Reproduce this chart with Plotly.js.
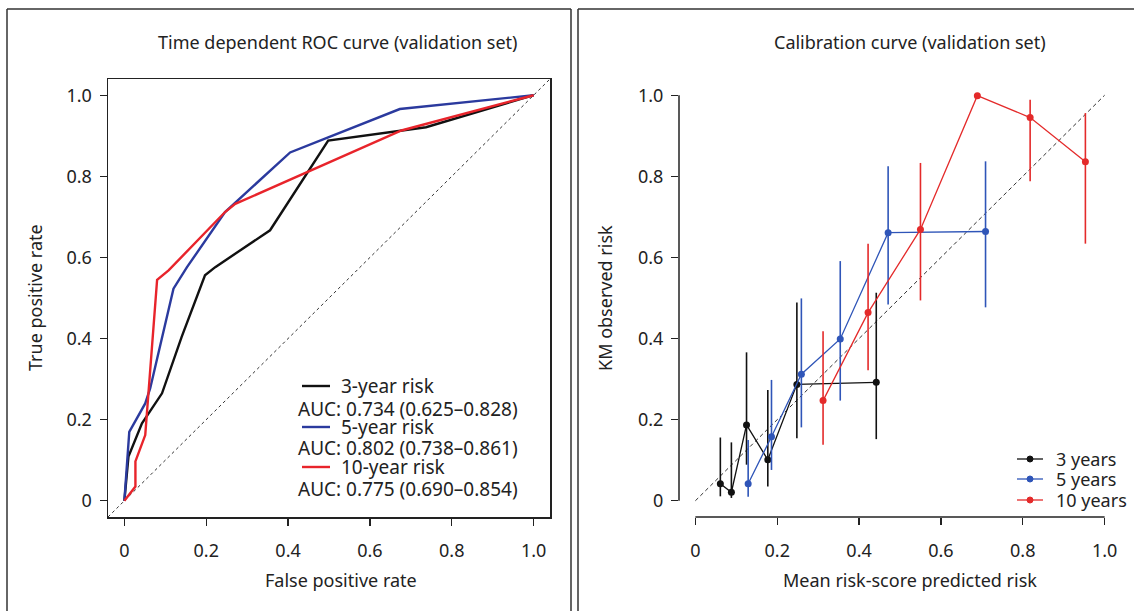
<!DOCTYPE html>
<html>
<head>
<meta charset="utf-8">
<script src="https://cdn.plot.ly/plotly-3.0.1.min.js"></script>
<style>
html,body{margin:0;padding:0;background:#fff;}
#chart{width:1134px;height:611px;}
</style>
</head>
<body>
<div id="chart"></div>
<script>
// ---------- ROC data (validation set) ----------
const roc3_fpr = [0, 0.010, 0.043, 0.092, 0.140, 0.197, 0.222, 0.356, 0.498, 0.677, 0.737, 1.0];
const roc3_tpr = [0, 0.109, 0.191, 0.265, 0.404, 0.556, 0.576, 0.667, 0.888, 0.913, 0.921, 1.0];
const roc5_fpr = [0, 0.012, 0.051, 0.063, 0.120, 0.153, 0.246, 0.405, 0.498, 0.673, 1.0];
const roc5_tpr = [0, 0.170, 0.240, 0.277, 0.523, 0.576, 0.712, 0.859, 0.896, 0.966, 1.0];
const roc10_fpr = [0, 0.027, 0.027, 0.051, 0.080, 0.108, 0.246, 0.271, 0.677, 1.0];
const roc10_tpr = [0, 0.035, 0.097, 0.162, 0.545, 0.568, 0.712, 0.732, 0.913, 1.0];
const rocDiag = [-0.04, 1.04];

// ---------- Calibration data ----------
const cal3_pred = [0.061, 0.088, 0.125, 0.177, 0.248, 0.442];
const cal3_obs  = [0.042, 0.021, 0.187, 0.101, 0.287, 0.292];
const cal3_up   = [0.156, 0.144, 0.366, 0.273, 0.489, 0.513];
const cal3_lo   = [0.011, 0.007, 0.089, 0.035, 0.154, 0.152];

const cal5_pred = [0.129, 0.186, 0.259, 0.354, 0.471, 0.709];
const cal5_obs  = [0.042, 0.158, 0.312, 0.399, 0.661, 0.664];
const cal5_up   = [0.150, 0.298, 0.499, 0.591, 0.825, 0.837];
const cal5_lo   = [0.010, 0.076, 0.181, 0.247, 0.484, 0.477];

const cal10_pred = [0.312, 0.422, 0.550, 0.689, 0.818, 0.953];
const cal10_obs  = [0.247, 0.464, 0.669, 0.999, 0.945, 0.836];
const cal10_up   = [0.418, 0.634, 0.833, 0.999, 0.989, 0.956];
const cal10_lo   = [0.138, 0.322, 0.494, 0.999, 0.788, 0.634];
const calDiag = [0, 1];

// ---------- Text ----------
const tickVals = [0, 0.2, 0.4, 0.6, 0.8, 1.0];
const tickText = ['0', '0.2', '0.4', '0.6', '0.8', '1.0'];
const rocTitle = 'Time dependent ROC curve (validation set)';
const calTitle = 'Calibration curve (validation set)';
const rocLegend = ['3-year risk', '5-year risk', '10-year risk'];
const rocAUC = ['AUC: 0.734 (0.625–0.828)', 'AUC: 0.802 (0.738–0.861)', 'AUC: 0.775 (0.690–0.854)'];
const calLegend = ['3 years', '5 years', '10 years'];

// ---------- styling ----------
const W = 1134, H = 611;
const FONT = '"Noto Sans", "Open Sans", sans-serif';
const rocColors = ['#111111', '#2b3a9e', '#e8242b'];
const calColors = ['#111111', '#2f55b8', '#e42a2a'];
const px = v => v / W;
const py = v => 1 - v / H;

function rocTrace(x, y, c) {
  return {x: x, y: y, xaxis: 'x', yaxis: 'y', mode: 'lines', type: 'scatter',
          line: {color: c, width: 2.4}, showlegend: false, hoverinfo: 'skip'};
}
function calTrace(x, y, up, lo, c) {
  return {x: x, y: y, xaxis: 'x2', yaxis: 'y2', mode: 'lines+markers', type: 'scatter',
          line: {color: c, width: 1.3}, marker: {color: c, size: 7},
          error_y: {type: 'data', symmetric: false,
                    array: up.map((u, i) => u - y[i]),
                    arrayminus: lo.map((l, i) => y[i] - l),
                    color: c, thickness: 1.6, width: 0},
          showlegend: false, hoverinfo: 'skip'};
}

const traces = [
  {x: rocDiag, y: rocDiag, xaxis: 'x', yaxis: 'y', mode: 'lines', type: 'scatter',
   line: {color: '#333', width: 1, dash: '3px,3px'}, showlegend: false, hoverinfo: 'skip'},
  rocTrace(roc3_fpr, roc3_tpr, rocColors[0]),
  rocTrace(roc5_fpr, roc5_tpr, rocColors[1]),
  rocTrace(roc10_fpr, roc10_tpr, rocColors[2]),
  {x: calDiag, y: calDiag, xaxis: 'x2', yaxis: 'y2', mode: 'lines', type: 'scatter',
   line: {color: '#333', width: 1, dash: '4px,3px'}, showlegend: false, hoverinfo: 'skip'},
  calTrace(cal3_pred, cal3_obs, cal3_up, cal3_lo, calColors[0]),
  calTrace(cal5_pred, cal5_obs, cal5_up, cal5_lo, calColors[1]),
  calTrace(cal10_pred, cal10_obs, cal10_up, cal10_lo, calColors[2])
];

const axisCommon = {
  range: [-0.04, 1.04], tickvals: tickVals, ticktext: tickText,
  ticks: 'outside', ticklen: 7, tickwidth: 1.3, tickcolor: '#222',
  showgrid: false, zeroline: false, fixedrange: true,
  tickfont: {family: FONT, size: 18, color: '#222'}
};

const layout = {
  width: W, height: H,
  margin: {l: 0, r: 0, t: 0, b: 0},
  paper_bgcolor: '#fff', plot_bgcolor: '#fff',
  showlegend: false,
  xaxis: Object.assign({}, axisCommon, {domain: [px(108), px(550)], anchor: 'y',
          showline: true, mirror: true, linecolor: '#222', linewidth: 1.5, ticklabelstandoff: 10}),
  yaxis: Object.assign({}, axisCommon, {domain: [py(517), py(79)], anchor: 'x',
          showline: true, mirror: true, linecolor: '#222', linewidth: 1.5, ticklabelstandoff: 4}),
  xaxis2: Object.assign({}, axisCommon, {domain: [px(679), px(1121)], anchor: 'y2',
          showline: false, ticklabelstandoff: 10}),
  yaxis2: Object.assign({}, axisCommon, {domain: [py(517), py(79)], anchor: 'x2',
          showline: false, ticklabelstandoff: 4}),
  shapes: [],
  annotations: []
};

// panel frames
const frame = {type: 'line', xref: 'paper', yref: 'paper', line: {color: '#333', width: 1.5}};
layout.shapes.push(Object.assign({}, frame, {x0: px(7), x1: px(571), y0: py(9), y1: py(9)}));
layout.shapes.push(Object.assign({}, frame, {x0: px(7), x1: px(7), y0: py(9), y1: py(611)}));
layout.shapes.push(Object.assign({}, frame, {x0: px(571), x1: px(571), y0: py(9), y1: py(611)}));
layout.shapes.push(Object.assign({}, frame, {x0: px(578), x1: px(1134), y0: py(9), y1: py(9)}));
layout.shapes.push(Object.assign({}, frame, {x0: px(578), x1: px(578), y0: py(9), y1: py(611)}));

// R-style axis lines for calibration panel (span 0..1 only)
layout.shapes.push({type: 'line', xref: 'x2', yref: 'y2 domain', x0: 0, x1: 1, y0: 0, y1: 0,
                    line: {color: '#222', width: 1.5}});
layout.shapes.push({type: 'line', xref: 'x2 domain', yref: 'y2', x0: 0, x1: 0, y0: 0, y1: 1,
                    line: {color: '#222', width: 1.5}});

// titles
function ann(text, x, y, size, extra) {
  return Object.assign({text: text, x: px(x), y: py(y), xref: 'paper', yref: 'paper',
    showarrow: false, xanchor: 'center', yanchor: 'middle',
    font: {family: FONT, size: size, color: '#222'}}, extra || {});
}
layout.annotations.push(ann(rocTitle, 338, 42, 18));
layout.annotations.push(ann(calTitle, 910, 42, 18));
layout.annotations.push(ann('False positive rate', 341, 580, 18));
layout.annotations.push(ann('Mean risk-score predicted risk', 910, 580, 18));
layout.annotations.push(ann('True positive rate', 35, 298, 18, {textangle: -90}));
layout.annotations.push(ann('KM observed risk', 605, 298, 18, {textangle: -90}));

// ROC legend
const rocLegY = [386, 427, 467];
const rocAucY = [409, 448, 489];
for (let i = 0; i < 3; i++) {
  layout.shapes.push({type: 'line', xref: 'paper', yref: 'paper',
    x0: px(302), x1: px(330), y0: py(rocLegY[i]), y1: py(rocLegY[i]),
    line: {color: rocColors[i], width: 2.4}});
  layout.annotations.push(ann(rocLegend[i], 339, rocLegY[i], 19, {xanchor: 'left'}));
  layout.annotations.push(ann(rocAUC[i], 296, rocAucY[i], 19, {xanchor: 'left'}));
}

// Calibration legend
const calLegY = [459, 479, 500];
for (let i = 0; i < 3; i++) {
  layout.shapes.push({type: 'line', xref: 'paper', yref: 'paper',
    x0: px(1017), x1: px(1043), y0: py(calLegY[i]), y1: py(calLegY[i]),
    line: {color: calColors[i], width: 1.3}});
  layout.shapes.push({type: 'circle', xref: 'paper', yref: 'paper',
    x0: px(1027), x1: px(1033), y0: py(calLegY[i] + 3), y1: py(calLegY[i] - 3),
    fillcolor: calColors[i], line: {color: calColors[i], width: 1}});
  layout.annotations.push(ann(calLegend[i], 1054, calLegY[i], 18, {xanchor: 'left'}));
}

Plotly.newPlot('chart', traces, layout, {displayModeBar: false, staticPlot: true});
</script>
</body>
</html>
